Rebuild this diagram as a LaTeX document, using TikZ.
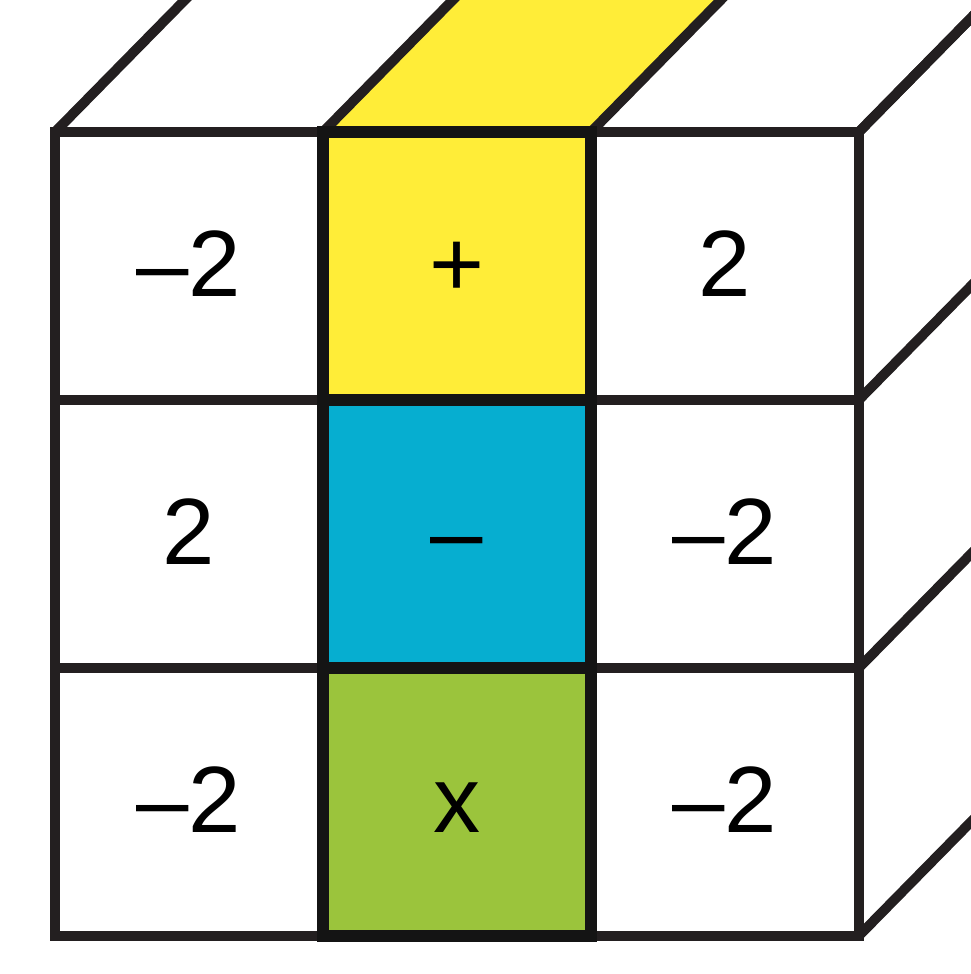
\documentclass[tikz,border=0pt]{standalone}
\usepackage{fontspec}
\setmainfont{Liberation Sans}
\definecolor{amarillo}{RGB}{255,237,56}
\definecolor{azul}{RGB}{6,174,208}
\definecolor{verde}{RGB}{155,196,60}
\definecolor{tinta}{RGB}{35,31,32}
\tikzset{
  celda/.style={draw=tinta,line width=2.1pt},
  celdacolor/.style={draw=black!92,line width=2.5pt},
  num/.style={font=\fontsize{20}{24}\selectfont,text height=13pt,text depth=0pt,inner sep=0pt}
}

\begin{document}
\begin{tikzpicture}[x=2cm,y=2cm,line join=miter]
  \useasboundingbox (-0.205,-0.142) rectangle (3.418,3.493);
  \clip (-0.205,-0.142) rectangle (3.418,3.493);
  % cara superior
  \draw[celda,fill=amarillo] (1,3) -- ++(0.6,0.61) -- ++(1,0) -- (2,3) -- cycle;
  \foreach \i in {0,3} \draw[celda] (\i,3) -- ++(0.6,0.61);
  % cara lateral
  \foreach \j in {0,...,3} \draw[celda] (3,\j) -- ++(0.6,0.61);
  % cara frontal
  \foreach \j in {0,1,2} \foreach \i in {0,2} \draw[celda,fill=white] (\i,\j) rectangle ++(1,1);
  \draw[celdacolor,fill=amarillo] (1,2) rectangle ++(1,1);
  \draw[celdacolor,fill=azul] (1,1) rectangle ++(1,1);
  \draw[celdacolor,fill=verde] (1,0) rectangle ++(1,1);
  % valores
  \foreach \i/\j/\txt in {0/2/{–2},1/2/{+},2/2/{2},0/1/{2},1/1/{–},2/1/{–2},0/0/{–2},1/0/{x},2/0/{–2}}
    \node[num] (c\i\j) at (\i+0.5,\j+0.5) {\txt};
\end{tikzpicture}
\end{document}
